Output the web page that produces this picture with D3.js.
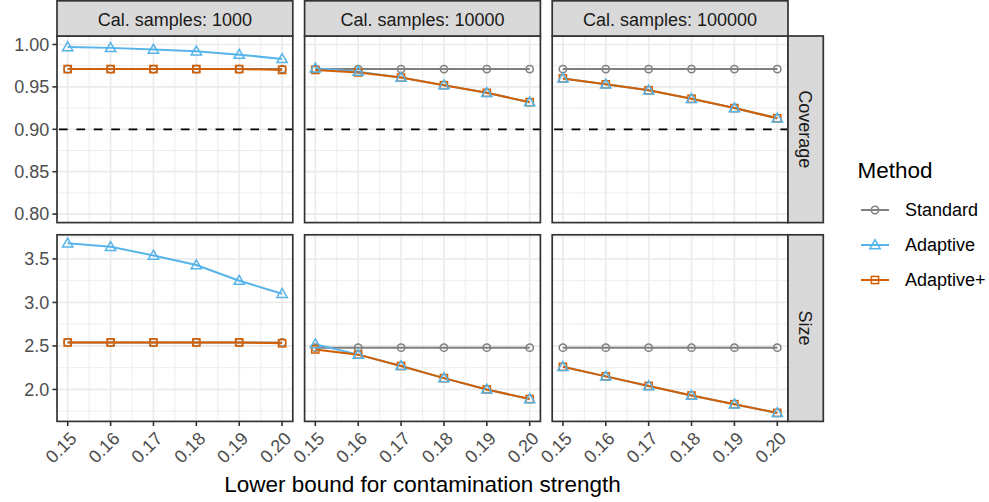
<!DOCTYPE html>
<html>
<head>
<meta charset="utf-8">
<script src="https://cdn.jsdelivr.net/npm/d3@7"></script>
<style>
  html, body { margin: 0; padding: 0; background: #ffffff; }
  svg { display: block; font-family: "Liberation Sans", Arial, Helvetica, sans-serif; }
</style>
</head>
<body>
<script>
// ---------------- DATA ----------------
const xValues = [0.15, 0.16, 0.17, 0.18, 0.19, 0.20];
const xTickLabels = ["0.15", "0.16", "0.17", "0.18", "0.19", "0.20"];
const sampleSizes = [1000, 10000, 100000];
const stripLabels = ["Cal. samples: 1000", "Cal. samples: 10000", "Cal. samples: 100000"];
const methods = ["Standard", "Adaptive", "Adaptive+"];
const metrics = ["Coverage", "Size"];

// Coverage: one row per calibration sample size (1000, 10000, 100000)
const coverageStandard = [
  [0.971, 0.971, 0.971, 0.971, 0.971, 0.971],
  [0.971, 0.971, 0.971, 0.971, 0.971, 0.971],
  [0.971, 0.971, 0.971, 0.971, 0.971, 0.971]
];
const coverageAdaptive = [
  [0.997, 0.996, 0.994, 0.992, 0.988, 0.983],
  [0.972, 0.968, 0.961, 0.952, 0.943, 0.932],
  [0.960, 0.953, 0.946, 0.936, 0.925, 0.913]
];
const coverageAdaptivePlus = [
  [0.971, 0.971, 0.971, 0.971, 0.971, 0.970],
  [0.970, 0.967, 0.961, 0.952, 0.943, 0.932],
  [0.960, 0.953, 0.946, 0.936, 0.925, 0.913]
];
// Size
const sizeStandard = [
  [2.54, 2.54, 2.54, 2.54, 2.54, 2.54],
  [2.48, 2.48, 2.48, 2.48, 2.48, 2.48],
  [2.48, 2.48, 2.48, 2.48, 2.48, 2.48]
];
const sizeAdaptive = [
  [3.68, 3.64, 3.54, 3.43, 3.25, 3.10],
  [2.52, 2.40, 2.27, 2.13, 2.00, 1.89],
  [2.26, 2.15, 2.04, 1.93, 1.83, 1.73]
];
const sizeAdaptivePlus = [
  [2.54, 2.54, 2.54, 2.54, 2.54, 2.53],
  [2.46, 2.40, 2.27, 2.13, 2.00, 1.89],
  [2.26, 2.15, 2.04, 1.93, 1.83, 1.73]
];

const coverageLimits = [0.80, 1.00];
const coverageTicks = [0.80, 0.85, 0.90, 0.95, 1.00];
const coverageTickLabels = ["0.80", "0.85", "0.90", "0.95", "1.00"];
const sizeTicks = [2.0, 2.5, 3.0, 3.5];
const sizeTickLabels = ["2.0", "2.5", "3.0", "3.5"];
const targetCoverage = 0.90;

const xTitle = "Lower bound for contamination strength";
const legendTitle = "Method";

// ---------------- STYLE ----------------
const colors = { "Standard": "#808080", "Adaptive": "#56B4E9", "Adaptive+": "#D55E00" };
const shapes = { "Standard": "circle", "Adaptive": "triangle", "Adaptive+": "square" };
const pointOrder = ["Standard", "Adaptive+", "Adaptive"];

const W = 989, H = 502;
const panelLeft = 57, panelW = 235.8, colGap = 11.8;
const panelTop = 36, panelH = 186.6, rowGap = 12.2;
const stripTop = 0.8;
const stripRightW = 35.3;
const borderCol = "#333333";

const dataByMetric = {
  "Coverage": { "Standard": coverageStandard, "Adaptive": coverageAdaptive, "Adaptive+": coverageAdaptivePlus },
  "Size": { "Standard": sizeStandard, "Adaptive": sizeAdaptive, "Adaptive+": sizeAdaptivePlus }
};

function expand(ext) {
  const d = (ext[1] - ext[0]) * 0.05;
  return [ext[0] - d, ext[1] + d];
}
const sizeAll = [].concat(...sizeStandard, ...sizeAdaptive, ...sizeAdaptivePlus);
const yDomains = {
  "Coverage": expand(coverageLimits),
  "Size": expand(d3.extent(sizeAll))
};
const yTicksBy = { "Coverage": coverageTicks, "Size": sizeTicks };
const yTickLabelsBy = { "Coverage": coverageTickLabels, "Size": sizeTickLabels };
const xDomain = expand(d3.extent(xValues));

function minorBreaks(majors, domain) {
  const step = majors[1] - majors[0];
  const out = [];
  for (let v = majors[0] - step / 2; v <= domain[1] + 1e-9; v += step) {
    if (v >= domain[0] - 1e-9) out.push(+v.toFixed(6));
  }
  return out;
}

const svg = d3.select("body").append("svg").attr("width", W).attr("height", H);
svg.append("rect").attr("width", W).attr("height", H).attr("fill", "#ffffff");

function drawMarker(g, shape, cx, cy, color) {
  if (shape === "circle") {
    g.append("circle").attr("cx", cx).attr("cy", cy).attr("r", 3.7)
      .attr("fill", "none").attr("stroke", color).attr("stroke-width", 1.5);
  } else if (shape === "triangle") {
    const s = d3.symbol().type(d3.symbolTriangle).size(46);
    g.append("path").attr("d", s()).attr("transform", `translate(${cx},${cy + 0.7})`)
      .attr("fill", "none").attr("stroke", color).attr("stroke-width", 1.5);
  } else {
    g.append("rect").attr("x", cx - 3.6).attr("y", cy - 3.6).attr("width", 7.2).attr("height", 7.2)
      .attr("fill", "none").attr("stroke", color).attr("stroke-width", 1.5);
  }
}

metrics.forEach((metric, r) => {
  sampleSizes.forEach((n, c) => {
    const x0 = panelLeft + c * (panelW + colGap);
    const y0 = panelTop + r * (panelH + rowGap);
    const xS = d3.scaleLinear().domain(xDomain).range([x0, x0 + panelW]);
    const yS = d3.scaleLinear().domain(yDomains[metric]).range([y0 + panelH, y0]);
    const g = svg.append("g");

    // minor grid
    const xMinor = minorBreaks(xValues, xDomain);
    const yMinor = minorBreaks(yTicksBy[metric], yDomains[metric]);
    g.selectAll(".xmin").data(xMinor).enter().append("line")
      .attr("x1", d => xS(d)).attr("x2", d => xS(d)).attr("y1", y0).attr("y2", y0 + panelH)
      .attr("stroke", "#EBEBEB").attr("stroke-width", 0.9);
    g.selectAll(".ymin").data(yMinor).enter().append("line")
      .attr("x1", x0).attr("x2", x0 + panelW).attr("y1", d => yS(d)).attr("y2", d => yS(d))
      .attr("stroke", "#EBEBEB").attr("stroke-width", 0.9);
    // major grid
    g.selectAll(".xmaj").data(xValues).enter().append("line")
      .attr("x1", d => xS(d)).attr("x2", d => xS(d)).attr("y1", y0).attr("y2", y0 + panelH)
      .attr("stroke", "#EBEBEB").attr("stroke-width", 1.7);
    g.selectAll(".ymaj").data(yTicksBy[metric]).enter().append("line")
      .attr("x1", x0).attr("x2", x0 + panelW).attr("y1", d => yS(d)).attr("y2", d => yS(d))
      .attr("stroke", "#EBEBEB").attr("stroke-width", 1.7);

    // reference line
    if (metric === "Coverage") {
      g.append("line").attr("x1", x0).attr("x2", x0 + panelW)
        .attr("y1", yS(targetCoverage)).attr("y2", yS(targetCoverage))
        .attr("stroke", "#000000").attr("stroke-width", 1.8).attr("stroke-dasharray", "8.7,8.7")
        .attr("stroke-dashoffset", -2);
    }

    // lines
    const line = d3.line().x((d, i) => xS(xValues[i])).y(d => yS(d));
    methods.forEach(m => {
      g.append("path").datum(dataByMetric[metric][m][c]).attr("d", line)
        .attr("fill", "none").attr("stroke", colors[m]).attr("stroke-width", 2);
    });
    // points
    pointOrder.forEach(m => {
      dataByMetric[metric][m][c].forEach((v, i) => drawMarker(g, shapes[m], xS(xValues[i]), yS(v), colors[m]));
    });

    // panel border
    g.append("rect").attr("x", x0).attr("y", y0).attr("width", panelW).attr("height", panelH)
      .attr("fill", "none").attr("stroke", borderCol).attr("stroke-width", 1.7);

    // top strip
    if (r === 0) {
      svg.append("rect").attr("x", x0).attr("y", stripTop).attr("width", panelW).attr("height", y0 - stripTop)
        .attr("fill", "#D9D9D9").attr("stroke", borderCol).attr("stroke-width", 1.7);
      svg.append("text").attr("x", x0 + panelW / 2).attr("y", 25.8).attr("text-anchor", "middle")
        .attr("font-size", "18px").attr("fill", "#1A1A1A").text(stripLabels[c]);
    }
    // right strip
    if (c === sampleSizes.length - 1) {
      svg.append("rect").attr("x", x0 + panelW).attr("y", y0).attr("width", stripRightW).attr("height", panelH)
        .attr("fill", "#D9D9D9").attr("stroke", borderCol).attr("stroke-width", 1.7);
      svg.append("text").attr("transform", `translate(${x0 + panelW + stripRightW / 2 - 6.3},${y0 + panelH / 2}) rotate(90)`)
        .attr("text-anchor", "middle").attr("font-size", "18px").attr("fill", "#1A1A1A").text(metric);
    }
    // y axis
    if (c === 0) {
      const ticks = yTicksBy[metric], labs = yTickLabelsBy[metric];
      ticks.forEach((t, i) => {
        svg.append("line").attr("x1", x0 - 4.6).attr("x2", x0).attr("y1", yS(t)).attr("y2", yS(t))
          .attr("stroke", borderCol).attr("stroke-width", 1.6);
        svg.append("text").attr("x", x0 - 7.8).attr("y", yS(t)).attr("dy", "0.35em")
          .attr("text-anchor", "end").attr("font-size", "18px").attr("fill", "#4D4D4D").text(labs[i]);
      });
    }
    // x axis
    if (r === metrics.length - 1) {
      xValues.forEach((t, i) => {
        svg.append("line").attr("x1", xS(t)).attr("x2", xS(t)).attr("y1", y0 + panelH).attr("y2", y0 + panelH + 4.6)
          .attr("stroke", borderCol).attr("stroke-width", 1.6);
        svg.append("text").attr("transform", `translate(${xS(t) + 1},${y0 + panelH + 9}) rotate(-45)`)
          .attr("dy", "0.72em").attr("text-anchor", "end").attr("font-size", "18px")
          .attr("fill", "#4D4D4D").text(xTickLabels[i]);
      });
    }
  });
});

// x title
const plotLeft = panelLeft, plotRight = panelLeft + 3 * panelW + 2 * colGap;
svg.append("text").attr("x", (plotLeft + plotRight) / 2).attr("y", 491.5).attr("text-anchor", "middle")
  .attr("font-size", "22.5px").attr("fill", "#000000").text(xTitle);

// legend
const lg = svg.append("g");
lg.append("text").attr("x", 857.5).attr("y", 177.7).attr("font-size", "22.5px").attr("fill", "#000000").text(legendTitle);
const legendY = [210, 245, 280];
methods.forEach((m, i) => {
  const y = legendY[i];
  lg.append("line").attr("x1", 861).attr("x2", 889).attr("y1", y).attr("y2", y)
    .attr("stroke", colors[m]).attr("stroke-width", 2);
  drawMarker(lg, shapes[m], 875, y, colors[m]);
  lg.append("text").attr("x", 905).attr("y", y).attr("dy", "0.35em").attr("font-size", "18px")
    .attr("fill", "#000000").text(m);
});
</script>
</body>
</html>
